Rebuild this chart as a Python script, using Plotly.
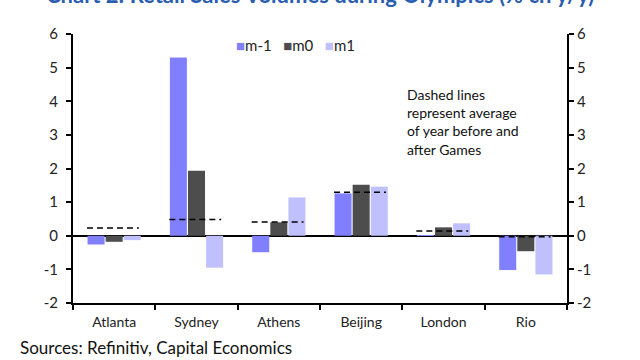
import plotly.graph_objects as go

cities = ["Atlanta", "Sydney", "Athens", "Beijing", "London", "Rio"]
m_minus1 = [-0.26, 5.30, -0.49, 1.26, 0.02, -1.02]
m0 = [-0.18, 1.93, 0.40, 1.52, 0.25, -0.46]
m1 = [-0.13, -0.95, 1.14, 1.46, 0.37, -1.15]
avg_year = [0.23, 0.48, 0.41, 1.29, 0.14, -0.03]
y_ticks = [-2, -1, 0, 1, 2, 3, 4, 5, 6]
y_ticklabels = ["-2", "-1", "0", "1", "2", "3", "4", "5", "6"]
series_names = ["m-1", "m0", "m1"]
series_colors = ["#8080ff", "#4d4d4d", "#c0c0ff"]

FONT = "Lato"
fig = go.Figure()
for name, vals, col in zip(series_names, [m_minus1, m0, m1], series_colors):
    fig.add_trace(go.Bar(x=cities, y=vals, name=name, marker_color=col,
                         marker_line_width=0, showlegend=False))

# dashed average lines on an overlaid numeric axis
dx, dy = [], []
for i, v in enumerate(avg_year):
    dx += [i - 0.33, i + 0.30, None]
    dy += [v, v, None]
fig.add_trace(go.Scatter(x=dx, y=dy, mode="lines", xaxis="x2", showlegend=False,
                         line=dict(color="black", width=1.5, dash="6px,4px"),
                         hoverinfo="skip"))
fig.add_trace(go.Scatter(x=[None], y=[None], yaxis="y2", showlegend=False))

yax = dict(range=[-2, 6], tickvals=y_ticks, ticktext=y_ticklabels, ticks="outside",
           ticklen=5, tickwidth=2, tickcolor="black", showline=True, linecolor="black",
           linewidth=2, showgrid=False, tickfont=dict(size=15, color="#222"))

fig.update_layout(
    width=640, height=360,
    margin=dict(l=73, r=73, t=34, b=57, autoexpand=False),
    paper_bgcolor="white", plot_bgcolor="white",
    font=dict(family=FONT, size=14, color="#222"),
    barmode="group", bargap=0.34, bargroupgap=0.06,
    showlegend=False,
    xaxis=dict(type="category", tickson="boundaries", ticks="outside", ticklen=5,
               tickwidth=2, tickcolor="black", showline=True, linecolor="black",
               linewidth=2, showgrid=False, range=[-0.5, 5.5], ticklabelstandoff=5,
               tickfont=dict(size=14)),
    xaxis2=dict(overlaying="x", range=[-0.5, 5.5], visible=False),
    yaxis=dict(**yax, zeroline=True, zerolinecolor="black", zerolinewidth=1.5,
               ticklabelstandoff=5),
    yaxis2=dict(**yax, overlaying="y", side="right", zeroline=False),
)

# legend drawn as a single text line
legend_txt = "".join(
    f"<span style='color:{c}'>■</span>{n}&nbsp;&nbsp;&nbsp;" for n, c in zip(series_names, series_colors)
)
fig.add_annotation(text=legend_txt, xref="paper", yref="paper", x=0.325, y=0.958,
                   xanchor="left", yanchor="middle", showarrow=False,
                   font=dict(size=15, color="#222"))

fig.add_annotation(text="Dashed lines<br>represent average<br>of year before and<br>after Games",
                   xref="paper", yref="paper", x=0.672, y=0.815, xanchor="left",
                   yanchor="top", align="left", showarrow=False,
                   font=dict(size=14, color="#111"))
fig.add_annotation(text="Sources: Refinitiv, Capital Economics", xref="paper", yref="paper",
                   x=-0.112, y=-0.12, xanchor="left", yanchor="top", showarrow=False,
                   font=dict(size=17, color="#111"))
fig.add_annotation(text="<b>Chart 2: Retail Sales Volumes during Olympics (% ch y/y)</b>",
                   xref="paper", yref="paper", x=0.5, y=1.09, xanchor="center",
                   yanchor="bottom", showarrow=False,
                   font=dict(size=22, color="#2a5db0"))

fig.write_html("out.html", config={"displayModeBar": False},
               post_script="document.body.style.margin='0';document.body.style.overflow='hidden';")
